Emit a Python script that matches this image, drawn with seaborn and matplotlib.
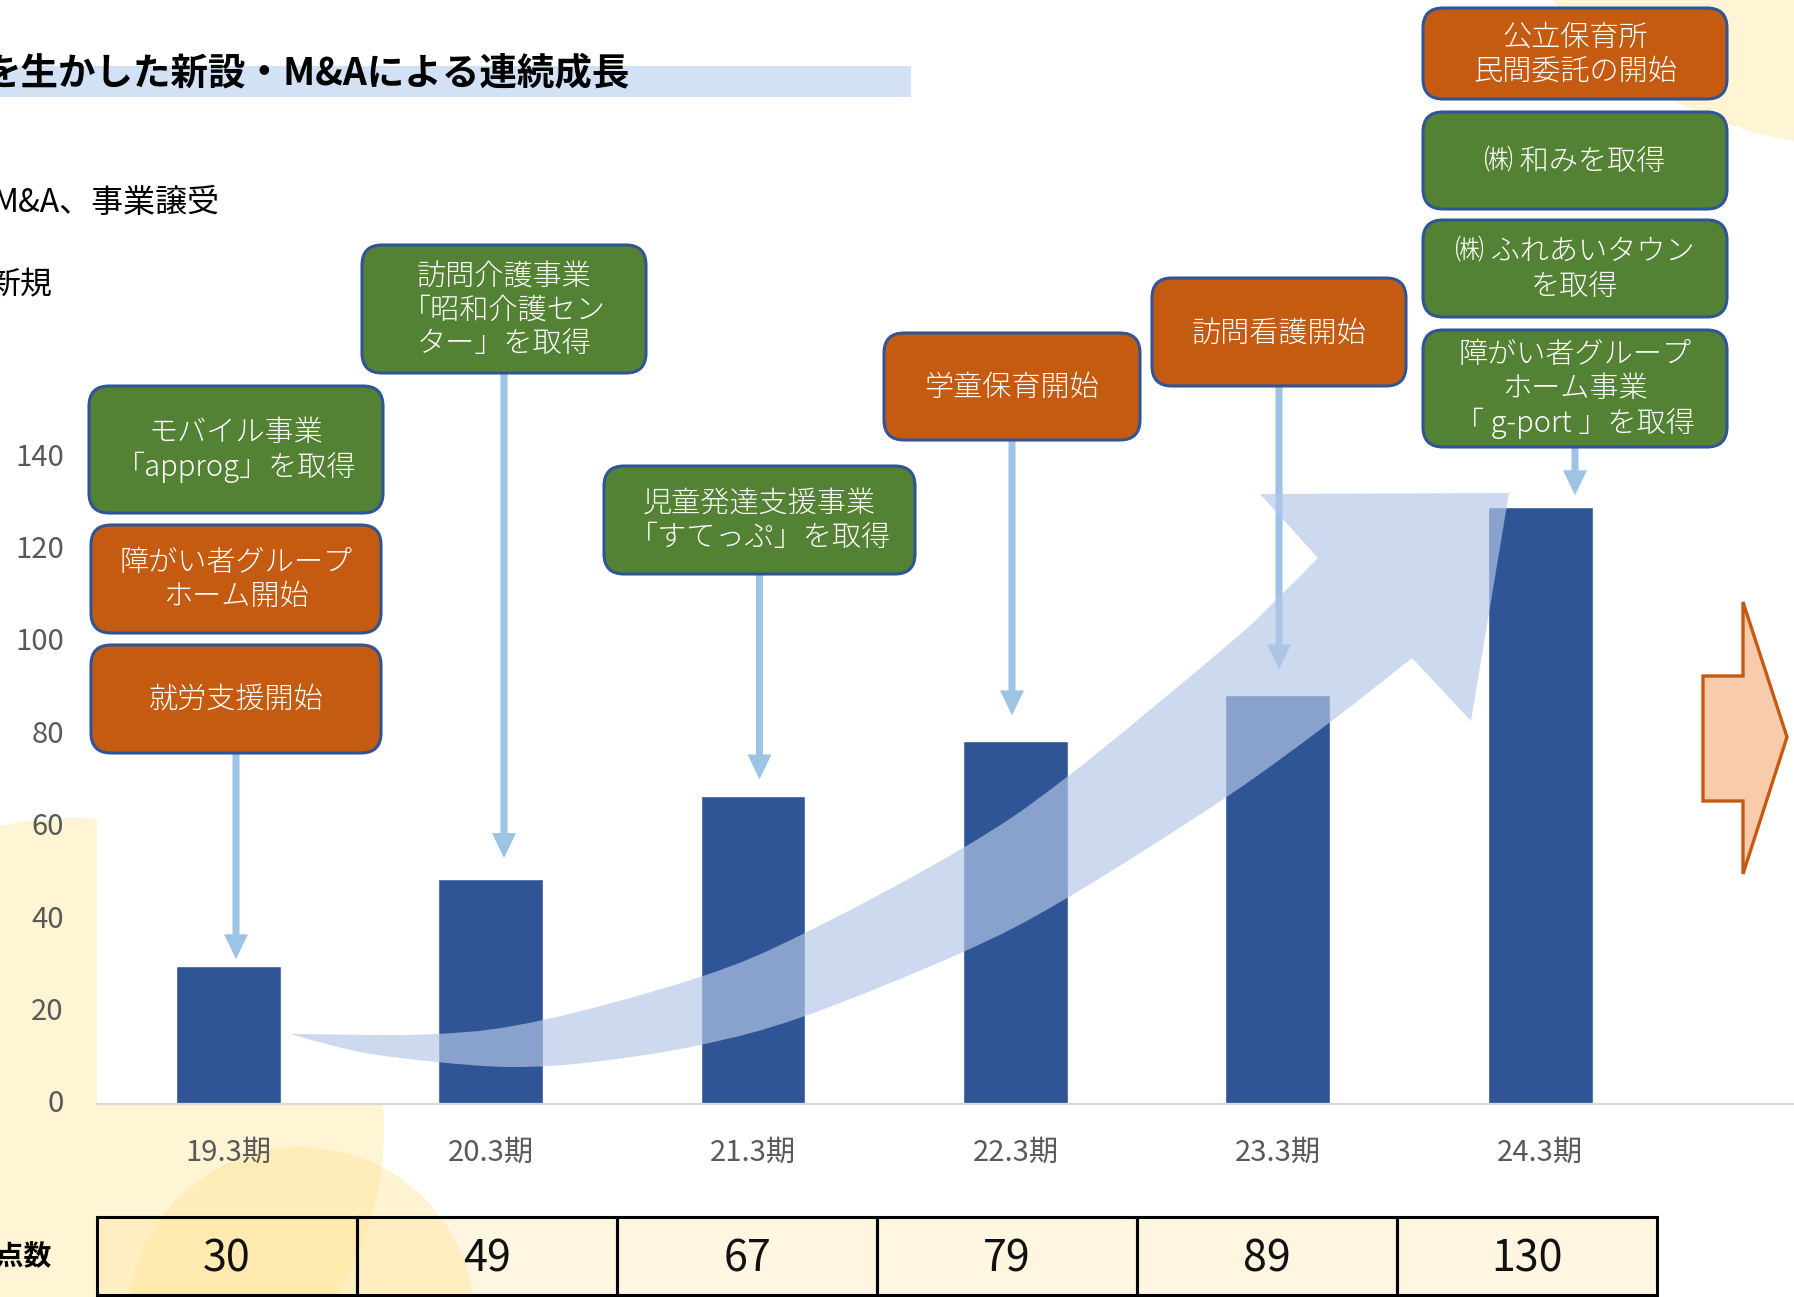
import numpy as np
import pandas as pd
import matplotlib
matplotlib.use("Agg")
import matplotlib.pyplot as plt
import seaborn as sns
from matplotlib.patches import FancyBboxPatch, Polygon, Circle, Rectangle, PathPatch, FancyArrow
from matplotlib.path import Path
from matplotlib.transforms import Affine2D, ScaledTranslation

# ---------------- data ----------------
periods = ["19.3期", "20.3期", "21.3期", "22.3期", "23.3期", "24.3期"]
sites = [30, 49, 67, 79, 89, 130]
y_ticks = [0, 20, 40, 60, 80, 100, 120, 140]
title_text = "を生かした新設・M&Aによる連続成長"
legend_texts = ["M&A、事業譲受", "新規"]
table_label = "拠点数"
event_labels = [
    "モバイル事業\n「approg」を取得",
    "障がい者グループ\nホーム開始",
    "就労支援開始",
    "訪問介護事業\n「昭和介護セン\nター」を取得",
    "児童発達支援事業\n「すてっぷ」を取得",
    "学童保育開始",
    "訪問看護開始",
    "公立保育所\n民間委託の開始",
    "㈱ 和みを取得",
    "㈱ ふれあいタウン\nを取得",
    "障がい者グループ\nホーム事業\n「 g-port 」を取得",
]
event_kinds = ["ma", "new", "new", "ma", "ma", "new", "new", "new", "ma", "ma", "ma"]

# ---------------- layout / style ----------------
W, H = 1794, 1297
box_rects = [(89, 386, 383, 513), (91, 525, 381, 633), (91, 645, 381, 753),
             (362, 245, 646, 373), (604, 466, 915, 574), (884, 333, 1140, 440),
             (1152, 278, 1406, 386), (1423, 8, 1727, 99), (1423, 112, 1727, 209),
             (1423, 220, 1727, 317), (1423, 330, 1727, 447)]
arrow_source = [2, 3, 4, 5, 6, 10]
arrow_gap_px = [7, 21, 17, 26, 26, 12]
kind_colors = {"ma": "#548235", "new": "#C55A11"}
BAR = "#2F5597"
GRAY = "#595959"

sns.set_theme(style="white")
plt.rcParams["font.family"] = ["Noto Sans CJK JP", "DejaVu Sans"]

fig = plt.figure(figsize=(W / 100, H / 100), dpi=100, facecolor="white")
px = Affine2D().scale(1 / W, -1 / H).translate(0, 1) + fig.transFigure

# axes: x from 97 px to right edge, y from 300 px to baseline 1104 px
ax_left, ax_top, ax_base = 97, 300, 1104
ax = fig.add_axes([ax_left / W, (H - ax_base) / H, (W - ax_left) / W, (ax_base - ax_top) / H])
ax.set_facecolor("white")
ax.set_zorder(0)

df = pd.DataFrame({"period": periods, "sites": sites})
sns.barplot(data=df, x="period", y="sites", color=BAR, saturation=1, width=0.4, ax=ax)
step = 262.4
ax.set_xlim(-0.5, -0.5 + (W - ax_left) / step)
ax.set_ylim(0, (ax_base - ax_top) / 4.59)
ax.set_yticks(y_ticks)
ax.set_yticklabels([str(v) for v in y_ticks])
ax.tick_params(axis="y", length=0, pad=24, labelsize=21, labelcolor=GRAY)
ax.tick_params(axis="x", length=0, pad=24, labelsize=21, labelcolor=GRAY)
for i, lab in enumerate(ax.get_yticklabels()):
    lab.set_transform(lab.get_transform() + ScaledTranslation(0, (3 + i * 0.6) / 100, fig.dpi_scale_trans))
ax.set_xlabel("")
ax.set_ylabel("")
for s in ["left", "right", "top"]:
    ax.spines[s].set_visible(False)
ax.spines["bottom"].set_color("#D9D9D9")
ax.spines["bottom"].set_linewidth(1.6)

# ---------------- background circles ----------------
circ_col = "#FFE699"
for (cx, cy, r, a) in [(72, 1130, 312, 0.42), (301, 1321, 174, 0.45), (1857, -245, 391, 0.42)]:
    fig.add_artist(Circle((cx, cy), r, transform=px, fc=circ_col, ec="none", alpha=a, zorder=-1))

# ---------------- title & legend texts ----------------
fig.add_artist(Rectangle((0, 66), 911, 31, transform=px, fc="#D2E2F4", ec="none", zorder=-0.5))
fig.text(630, 73, title_text, transform=px, ha="right", va="center", fontsize=27,
         fontweight="bold", color="black", zorder=5)
fig.text(220, 203, legend_texts[0], transform=px, ha="right", va="center", fontsize=23, color="black")
fig.text(52, 285, legend_texts[1], transform=px, ha="right", va="center", fontsize=23, color="black")

# ---------------- table ----------------
t_left, t_top, t_bot, cell_w = 97, 1217, 1295, 260
for i, v in enumerate(sites):
    x0 = t_left + i * cell_w
    fig.add_artist(Rectangle((x0, t_top), cell_w, t_bot - t_top, transform=px,
                             fc="#FFF6E1", ec="none", zorder=-2))
    fig.add_artist(Rectangle((x0, t_top), cell_w, t_bot - t_top, transform=px,
                             fc="none", ec="black", lw=2.2, zorder=1))
    fig.text(x0 + cell_w / 2, 1259, str(v), transform=px, ha="center", va="center",
             fontsize=31, color="#111111", zorder=2)
fig.text(52, 1257, table_label, transform=px, ha="right", va="center", fontsize=20,
         fontweight="bold", color="black", zorder=2)

# ---------------- arrows from event boxes to bars ----------------
for i, b in enumerate(arrow_source):
    x0, y0, x1, y1 = box_rects[b]
    xc = (x0 + x1) / 2
    bar_top = H - ax.transData.transform((i, sites[i]))[1]
    tip = bar_top - arrow_gap_px[i]
    fig.add_artist(FancyArrow(xc, y1, 0, tip - y1, width=7, head_width=24, head_length=25,
                              length_includes_head=True, transform=px, fc="#9DC3E6",
                              ec="none", zorder=1.5))

# ---------------- big growth arrow ----------------
def catmull(points):
    P = np.asarray(points, float)
    P = np.vstack([P[0], P, P[-1]])
    verts, codes = [], []
    for i in range(1, len(P) - 2):
        p0, p1, p2, p3 = P[i - 1], P[i], P[i + 1], P[i + 2]
        verts += [p1 + (p2 - p0) / 6, p2 - (p3 - p1) / 6, p2]
        codes += [Path.CURVE4] * 3
    return verts, codes

upper = [(290, 1034), (437, 1034), (543, 1020), (700, 977), (805, 933), (963, 848),
         (1067, 777), (1230, 643), (1276, 600), (1318, 558)]
lower = [(1412, 658), (1329, 723), (1225, 798), (1067, 898), (963, 952), (805, 1016),
         (700, 1045), (593, 1062), (513, 1067), (437, 1062), (360, 1052), (290, 1034)]
head = [(1260, 494), (1509, 493), (1471, 721), (1412, 658)]
verts, codes = [upper[0]], [Path.MOVETO]
v, c = catmull(upper); verts += v; codes += c
for p in head:
    verts.append(p); codes.append(Path.LINETO)
v, c = catmull(lower); verts += v; codes += c
verts.append(upper[0]); codes.append(Path.CLOSEPOLY)
fig.add_artist(PathPatch(Path(verts, codes), transform=px, fc="#B4C7E7", ec="none",
                         alpha=0.68, zorder=2))

# ---------------- event boxes ----------------
for (x0, y0, x1, y1), lab, kind in zip(box_rects, event_labels, event_kinds):
    fig.add_artist(FancyBboxPatch((x0, y0), x1 - x0, y1 - y0,
                                  boxstyle="round,pad=0,rounding_size=20", transform=px,
                                  fc=kind_colors[kind], ec="#2F5597", lw=2.2, zorder=3))
    fig.text((x0 + x1) / 2, (y0 + y1) / 2 + 1, lab, transform=px, ha="center", va="center",
             fontsize=21, color="white", linespacing=1.15, fontweight="light", zorder=4)

# ---------------- right orange arrow ----------------
fig.add_artist(Polygon([(1703, 676), (1743, 676), (1743, 602), (1787, 737), (1743, 874),
                        (1743, 801), (1703, 801)], closed=True, transform=px,
                       fc="#F8CBAD", ec="#C55A11", lw=2.4, zorder=3))

fig.savefig("out.png", dpi=100, facecolor="white")
